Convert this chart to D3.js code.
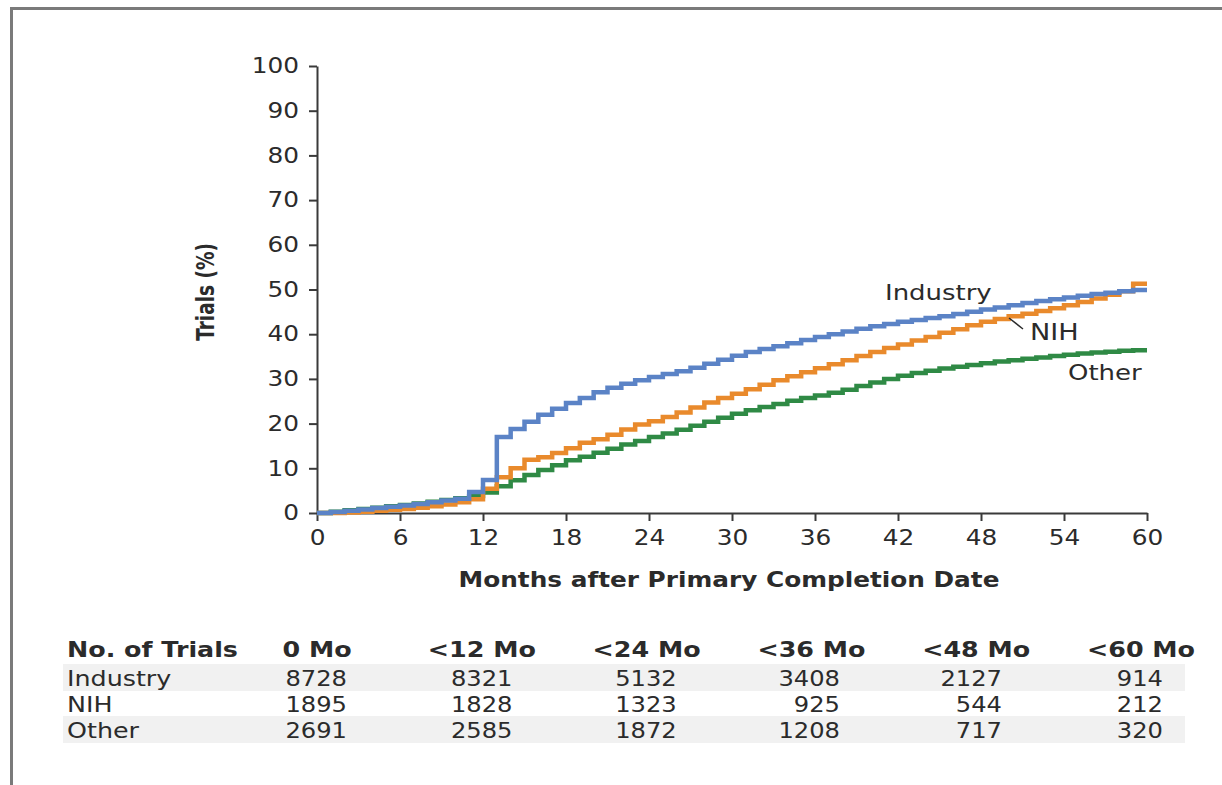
<!DOCTYPE html>
<html>
<head>
<meta charset="utf-8">
<script src="https://cdn.jsdelivr.net/npm/d3@7"></script>
<style>
  body { margin: 0; background: #fff; }
  text { font-family: "DejaVu Sans", sans-serif; fill: #2b2b2b; }
</style>
</head>
<body>
<div id="chart"></div>
<script>
// months 0..60, cumulative % of trials reporting results
const months = d3.range(0, 61);
const industry = [0, 0.2, 0.5, 0.8, 1.1, 1.4, 1.7, 2.0, 2.4, 2.8, 3.2, 4.7, 7.4, 17, 18.8, 20.4, 22, 23.3, 24.6, 25.7,
  27, 28, 28.9, 29.7, 30.4, 31.1, 31.7, 32.5, 33.4, 34.3, 35.2, 36, 36.7, 37.3, 38, 38.7, 39.4, 40, 40.6, 41.2,
  41.8, 42.3, 42.8, 43.2, 43.6, 44, 44.5, 45, 45.5, 46, 46.5, 47, 47.4, 47.8, 48.2, 48.6, 49, 49.3, 49.6, 49.9, 49.9];
const nih = [0, 0, 0.1, 0.3, 0.5, 0.7, 0.9, 1.2, 1.5, 1.9, 2.4, 3.1, 5.4, 8, 10, 11.9, 12.5, 13.4, 14.5, 15.7,
  16.5, 17.5, 18.7, 19.8, 20.5, 21.5, 22.5, 23.6, 24.7, 25.7, 26.7, 27.7, 28.7, 29.7, 30.6, 31.5, 32.4, 33.3, 34.2, 35.1,
  36, 36.9, 37.7, 38.6, 39.4, 40.3, 41.1, 42, 42.8, 43.4, 44, 44.6, 45.2, 45.8, 46.5, 47.2, 48, 48.8, 49.6, 51.3, 51.3];
const other = [0, 0.3, 0.6, 0.9, 1.2, 1.5, 1.8, 2.1, 2.5, 2.9, 3.3, 3.8, 4.6, 6, 7.3, 8.5, 9.6, 10.7, 11.8, 12.6,
  13.5, 14.4, 15.3, 16.1, 17, 17.8, 18.6, 19.5, 20.4, 21.3, 22.2, 23, 23.7, 24.4, 25.1, 25.7, 26.3, 26.9, 27.6, 28.4,
  29.2, 30, 30.7, 31.3, 31.8, 32.3, 32.7, 33.1, 33.5, 33.9, 34.2, 34.5, 34.8, 35.1, 35.4, 35.7, 35.9, 36.1, 36.3, 36.4, 36.4];

const seriesNames = ['Industry', 'NIH', 'Other'];
const seriesColors = ['#5b83c6', '#e98a2c', '#2f8a45'];
const xTicks = [0, 6, 12, 18, 24, 30, 36, 42, 48, 54, 60];
const yTicks = [0, 10, 20, 30, 40, 50, 60, 70, 80, 90, 100];

const tableCols = ['0 Mo', '<12 Mo', '<24 Mo', '<36 Mo', '<48 Mo', '<60 Mo'];
const tableMonths = [0, 12, 24, 36, 48, 60];
const industryN = [8728, 8321, 5132, 3408, 2127, 914];
const nihN = [1895, 1828, 1323, 925, 544, 212];
const otherN = [2691, 2585, 1872, 1208, 717, 320];

const W = 1222, H = 785;
const SX = 1.18; // the original figure is a bit wide, glyphs stretched horizontally
const svg = d3.select('#chart').append('svg').attr('width', W).attr('height', H);

// text helper, stretched around its anchor point
function txt(x, y, s, size, opts = {}) {
  return svg.append('text')
    .attr('transform', `translate(${x},${y}) scale(${SX},1)`)
    .attr('text-anchor', opts.anchor || 'start')
    .style('font-size', size + 'px')
    .style('font-weight', opts.bold ? 'bold' : 'normal')
    .text(s);
}

// frame (left + top edges only are visible)
svg.append('path')
  .attr('d', `M11.5,${H} L11.5,8.5 L${W},8.5`)
  .attr('fill', 'none').attr('stroke', '#7a7a7a').attr('stroke-width', 3);

const x = d3.scaleLinear().domain([0, 60]).range([317, 1147]);
const y = d3.scaleLinear().domain([0, 100]).range([513, 66]);

const yAxis = svg.append('g').attr('transform', `translate(${x(0)},0)`)
  .call(d3.axisLeft(y).tickValues(yTicks).tickSize(8).tickPadding(10).tickSizeOuter(0));
const xAxis = svg.append('g').attr('transform', `translate(0,${y(0)})`)
  .call(d3.axisBottom(x).tickValues(xTicks).tickSize(8).tickPadding(9).tickSizeOuter(0));

[xAxis, yAxis].forEach(g => {
  g.select('.domain').attr('stroke', '#3a3a3a').attr('stroke-width', 2);
  g.selectAll('.tick line').attr('stroke', '#3a3a3a').attr('stroke-width', 2);
  g.selectAll('.tick text').style('font-family', '"DejaVu Sans", sans-serif')
    .style('font-size', '21px').attr('fill', '#2b2b2b');
});
yAxis.selectAll('.tick text').attr('x', -18 / SX).attr('transform', `scale(${SX},1)`);
xAxis.selectAll('.tick text').attr('transform', `scale(${SX},1)`);

// curves
const line = d3.line()
  .x((d, i) => x(months[i]))
  .y(d => y(d))
  .curve(d3.curveStepAfter);

[other, nih, industry].forEach((vals, k) => {
  const idx = 2 - k;
  svg.append('path').datum(vals)
    .attr('d', line)
    .attr('fill', 'none')
    .attr('stroke', seriesColors[idx])
    .attr('stroke-width', 4.5);
});

// series labels
txt(885, 300, 'Industry', 22);
txt(1030, 340, 'NIH', 23);
txt(1068, 380, 'Other', 22);
svg.append('line').attr('x1', 1009).attr('y1', 318).attr('x2', 1023).attr('y2', 329)
  .attr('stroke', '#2b2b2b').attr('stroke-width', 1.5);

// axis titles
txt(x(30) - 3, 587, 'Months after Primary Completion Date', 21, { anchor: 'middle', bold: true });
svg.append('text').attr('transform', `translate(214,292) rotate(-90) scale(1,1.38)`).attr('text-anchor', 'middle')
  .style('font-size', '18.5px').style('font-weight', 'bold').text('Trials (%)');

// number-at-risk table
const rowsN = [industryN, nihN, otherN];
const rowY = [686, 712, 738];
[0, 2].forEach(r => {
  svg.append('rect').attr('x', 63).attr('y', rowY[r] - 22).attr('width', 1122).attr('height', 27)
    .attr('fill', '#f1f1f1');
});
txt(67, 657, 'No. of Trials', 21.5, { bold: true });
tableCols.forEach((c, i) => {
  txt(x(tableMonths[i]) - tableMonths[i] * 0.1, 657, c, 21.5, { anchor: 'middle', bold: true });
});
seriesNames.forEach((n, r) => {
  txt(67, rowY[r], n, 21.5);
  rowsN[r].forEach((v, i) => {
    const m = tableMonths[i];
    txt(x(m) + 30 - 0.0039 * m * m, rowY[r], v, 20.5, { anchor: 'end' });
  });
});
</script>
</body>
</html>
